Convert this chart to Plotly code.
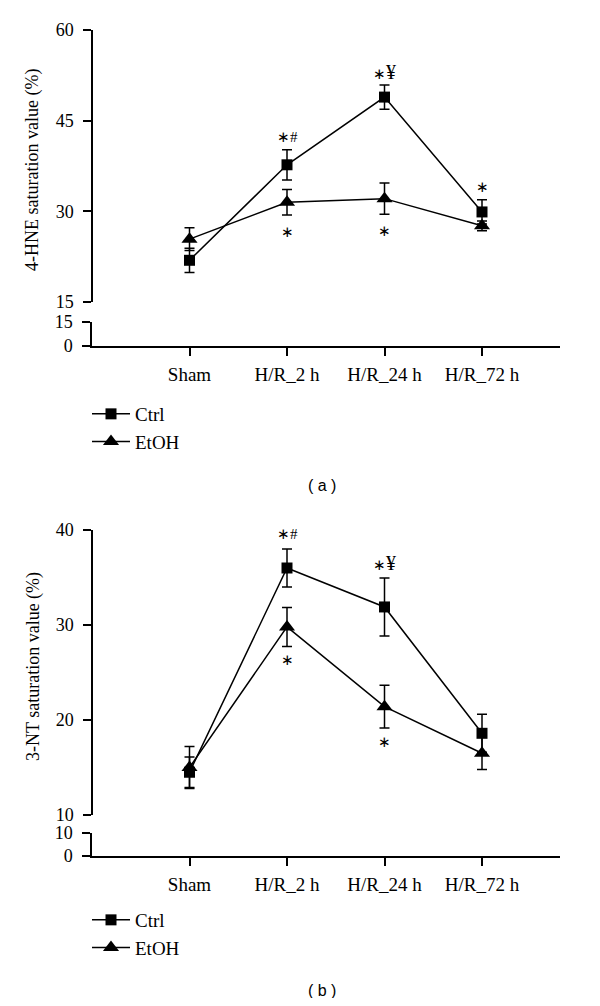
import plotly.graph_objects as go

# page body has an 8px margin, so the figure is sized to fill the 600x1006 window exactly
OFF = 8
W, H = 600 - 2 * OFF, 1006 - 2 * OFF

categories = ["Sham", "H/R_2 h", "H/R_24 h", "H/R_72 h"]

# Panel (a): 4-HNE
a_ctrl = [21.9, 37.7, 48.9, 29.9]
a_ctrl_err = [2.0, 2.5, 2.0, 2.0]
a_etoh = [25.4, 31.5, 32.1, 27.6]
a_etoh_err = [1.9, 2.1, 2.6, 0.8]
a_ctrl_marks = ["", "∗#", "∗¥", "∗"]
a_etoh_marks = ["", "∗", "∗", ""]

# Panel (b): 3-NT
b_ctrl = [14.5, 36.0, 31.9, 18.6]
b_ctrl_err = [1.6, 2.0, 3.05, 2.0]
b_etoh = [15.0, 29.8, 21.4, 16.5]
b_etoh_err = [2.2, 2.05, 2.25, 1.7]
b_ctrl_marks = ["", "∗#", "∗¥", ""]
b_etoh_marks = ["", "∗", "∗", ""]

SERIF = "Liberation Serif, Times New Roman, serif"
SANS = "Liberation Sans, Arial, sans-serif"


def py(p):
    return 1 - (p - OFF) / H


def px(p):
    return (p - OFF) / W


fig = go.Figure()


def add_series(xa, ya, y, err, name, symbol, size, legend):
    fig.add_trace(go.Scatter(
        x=categories, y=y, xaxis=xa, yaxis=ya, name=name, mode="lines+markers",
        line=dict(color="black", width=1.5),
        marker=dict(symbol=symbol, size=size, color="black"),
        error_y=dict(type="data", array=err, visible=True, color="black",
                     thickness=1.5, width=5),
        legend=legend, showlegend=True,
    ))


add_series("x", "y", a_ctrl, a_ctrl_err, "Ctrl", "square", 11, "legend")
add_series("x", "y", a_etoh, a_etoh_err, "EtOH", "triangle-up", 14, "legend")
add_series("x2", "y3", b_ctrl, b_ctrl_err, "Ctrl", "square", 11, "legend2")
add_series("x2", "y3", b_etoh, b_etoh_err, "EtOH", "triangle-up", 14, "legend2")

# empty traces so that the lower (broken) axis segments get their own subplots
for xa, ya in (("x", "y2"), ("x2", "y4")):
    fig.add_trace(go.Scatter(x=[], y=[], xaxis=xa, yaxis=ya, showlegend=False,
                             hoverinfo="skip", mode="markers"))

ann = []


def add_marks(xref, yref, vals, errs, marks, above, offset):
    for c, v, e, m in zip(categories, vals, errs, marks):
        if not m:
            continue
        yv = v + e if above else v - e
        if "¥" in m:
            text = m.replace("∗", "<span style='font-size:15px'>∗</span>")
            size = 20
        else:
            text = m
            size = 15
        ann.append(dict(x=c, y=yv, xref=xref, yref=yref, text=text, showarrow=False,
                        xanchor="center", yanchor="middle",
                        yshift=offset if above else -offset,
                        font=dict(family=SERIF, size=size, color="black")))


add_marks("x", "y", a_ctrl, a_ctrl_err, a_ctrl_marks, True, 13)
add_marks("x", "y", a_etoh, a_etoh_err, a_etoh_marks, False, 17)
add_marks("x2", "y3", b_ctrl, b_ctrl_err, b_ctrl_marks, True, 15)
add_marks("x2", "y3", b_etoh, b_etoh_err, b_etoh_marks, False, 14)

# y titles and panel labels
text_items = [
    (33, 170, "4-HNE saturation value (%)", -90, SERIF, 18),
    (33, 667, "3-NT saturation value (%)", -90, SERIF, 18),
    (322, 485, "( a )", 0, SANS, 16),
    (322, 990, "( b )", 0, SANS, 16),
]
for x0, y0, t, ang, fam, sz in text_items:
    ann.append(dict(x=px(x0), y=py(y0), xref="paper", yref="paper", text=t, textangle=ang,
                    xanchor="center", yanchor="middle", showarrow=False,
                    font=dict(family=fam, size=sz, color="black")))

x_dom = [px(92), px(560)]
axis_common = dict(showline=True, linecolor="black", linewidth=1.5, ticks="outside",
                   ticklen=8, tickwidth=1.5, tickcolor="black", showgrid=False, zeroline=False,
                   automargin=False)
xtick_font = dict(family=SERIF, size=19, color="black")
ytick_font = dict(family=SERIF, size=18, color="black")

legend_common = dict(xanchor="left", yanchor="top", font=dict(family=SERIF, size=19, color="black"),
                     bgcolor="rgba(0,0,0,0)", tracegroupgap=0, itemwidth=38)

fig.update_layout(
    width=W, height=H, margin=dict(l=0, r=0, t=0, b=0, pad=0, autoexpand=False),
    paper_bgcolor="white", plot_bgcolor="white",
    xaxis=dict(domain=x_dom, anchor="y2", type="category", range=[-1, 3.8], ticklabelstandoff=2,
               tickfont=xtick_font, **axis_common),
    yaxis=dict(domain=[py(302), py(30)], anchor="free", position=x_dom[0], range=[15, 60],
               tickvals=[15, 30, 45, 60], ticklabelstandoff=6, tickfont=ytick_font, **axis_common),
    yaxis2=dict(domain=[py(346), py(322)], anchor="x", range=[0, 15],
                tickvals=[0, 15], ticklabelstandoff=6, tickfont=ytick_font, **axis_common),
    xaxis2=dict(domain=x_dom, anchor="y4", type="category", range=[-1, 3.8], ticklabelstandoff=2,
                tickfont=xtick_font, **axis_common),
    yaxis3=dict(domain=[py(815), py(530)], anchor="free", position=x_dom[0], range=[10, 40],
                tickvals=[10, 20, 30, 40], ticklabelstandoff=6, tickfont=ytick_font, **axis_common),
    yaxis4=dict(domain=[py(856), py(833)], anchor="x2", range=[0, 10],
                tickvals=[0, 10], ticklabelstandoff=6, tickfont=ytick_font, **axis_common),
    legend=dict(x=px(87), y=py(395), **legend_common),
    legend2=dict(x=px(87), y=py(901), **legend_common),
    annotations=ann,
)

fig.write_html("out.html")
